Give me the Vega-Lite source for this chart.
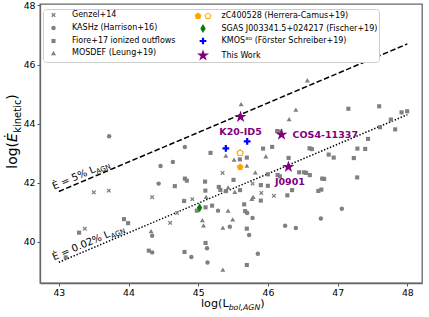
{
  "$schema": "https://vega.github.io/schema/vega-lite/v6.json",
  "width": 382,
  "height": 279,
  "autosize": {"type": "none"},
  "padding": {"left": 40, "top": 4, "right": 7, "bottom": 34},
  "background": "white",
  "config": {
    "view": {"stroke": "#666666", "strokeWidth": 1.3},
    "axis": {"domainColor": "#666666", "domainWidth": 1.3, "tickColor": "#555555", "tickSize": 3, "tickWidth": 1, "labelFont": "DejaVu Sans", "labelFontSize": 9.3, "labelColor": "#000000", "grid": false, "labelPadding": 2, "labelFlush": false, "title": null}
  },
  "datasets": {
    "pts": [
      {"g":"Genzel+14","x":43.502,"y":41.671},{"g":"Genzel+14","x":43.717,"y":41.729},{"g":"Genzel+14","x":43.373,"y":40.441},{"g":"Genzel+14","x":44.339,"y":41.508},{"g":"Genzel+14","x":44.915,"y":41.441},{"g":"Genzel+14","x":44.696,"y":40.973},{"g":"Genzel+14","x":44.597,"y":40.637},{"g":"Genzel+14","x":45.349,"y":42.329},{"g":"Genzel+14","x":45.779,"y":41.966},{"g":"Genzel+14","x":45.905,"y":41.651},{"g":"Genzel+14","x":46.085,"y":41.553},
      {"g":"KASHz (Harrison+16)","x":43.722,"y":43.569},{"g":"KASHz (Harrison+16)","x":44.808,"y":43.203},{"g":"KASHz (Harrison+16)","x":44.459,"y":42.566},{"g":"KASHz (Harrison+16)","x":44.636,"y":42.695},{"g":"KASHz (Harrison+16)","x":44.432,"y":41.966},{"g":"KASHz (Harrison+16)","x":44.339,"y":40.203},{"g":"KASHz (Harrison+16)","x":44.339,"y":39.637},{"g":"KASHz (Harrison+16)","x":44.901,"y":39.481},{"g":"KASHz (Harrison+16)","x":45.133,"y":39.298},{"g":"KASHz (Harrison+16)","x":45.284,"y":41.051},{"g":"KASHz (Harrison+16)","x":45.453,"y":40.502},{"g":"KASHz (Harrison+16)","x":45.730,"y":40.227},{"g":"KASHz (Harrison+16)","x":45.779,"y":40.803},{"g":"KASHz (Harrison+16)","x":45.126,"y":39.780},{"g":"KASHz (Harrison+16)","x":45.855,"y":39.593},{"g":"KASHz (Harrison+16)","x":46.247,"y":40.542},{"g":"KASHz (Harrison+16)","x":46.400,"y":40.464},{"g":"KASHz (Harrison+16)","x":46.759,"y":40.786},{"g":"KASHz (Harrison+16)","x":47.060,"y":41.112},{"g":"KASHz (Harrison+16)","x":45.702,"y":40.973},
      {"g":"Fiore+17 ionized outflows","x":43.291,"y":40.305},{"g":"Fiore+17 ionized outflows","x":43.100,"y":39.468},{"g":"Fiore+17 ionized outflows","x":43.935,"y":40.763},{"g":"Fiore+17 ionized outflows","x":43.994,"y":40.627},{"g":"Fiore+17 ionized outflows","x":44.664,"y":41.881},{"g":"Fiore+17 ionized outflows","x":44.808,"y":42.136},{"g":"Fiore+17 ionized outflows","x":44.836,"y":42.068},{"g":"Fiore+17 ionized outflows","x":44.798,"y":41.380},{"g":"Fiore+17 ionized outflows","x":44.291,"y":39.695},{"g":"Fiore+17 ionized outflows","x":44.803,"y":39.651},{"g":"Fiore+17 ionized outflows","x":45.176,"y":43.007},{"g":"Fiore+17 ionized outflows","x":45.098,"y":42.034},{"g":"Fiore+17 ionized outflows","x":45.102,"y":41.729},{"g":"Fiore+17 ionized outflows","x":45.295,"y":41.854},{"g":"Fiore+17 ionized outflows","x":45.317,"y":41.753},{"g":"Fiore+17 ionized outflows","x":45.396,"y":41.712},{"g":"Fiore+17 ionized outflows","x":45.600,"y":41.746},{"g":"Fiore+17 ionized outflows","x":45.506,"y":42.092},{"g":"Fiore+17 ionized outflows","x":45.597,"y":42.786},{"g":"Fiore+17 ionized outflows","x":45.697,"y":42.847},{"g":"Fiore+17 ionized outflows","x":45.930,"y":43.153},{"g":"Fiore+17 ionized outflows","x":46.060,"y":43.210},{"g":"Fiore+17 ionized outflows","x":45.105,"y":41.163},{"g":"Fiore+17 ionized outflows","x":45.199,"y":41.220},{"g":"Fiore+17 ionized outflows","x":44.980,"y":41.051},{"g":"Fiore+17 ionized outflows","x":45.659,"y":41.264},{"g":"Fiore+17 ionized outflows","x":45.673,"y":41.034},{"g":"Fiore+17 ionized outflows","x":45.697,"y":40.441},{"g":"Fiore+17 ionized outflows","x":45.105,"y":39.956},{"g":"Fiore+17 ionized outflows","x":45.697,"y":39.210},{"g":"Fiore+17 ionized outflows","x":45.898,"y":41.915},{"g":"Fiore+17 ionized outflows","x":45.898,"y":41.390},{"g":"Fiore+17 ionized outflows","x":45.999,"y":42.281},{"g":"Fiore+17 ionized outflows","x":45.999,"y":41.892},{"g":"Fiore+17 ionized outflows","x":46.138,"y":42.261},{"g":"Fiore+17 ionized outflows","x":46.171,"y":42.214},{"g":"Fiore+17 ionized outflows","x":46.132,"y":43.746},{"g":"Fiore+17 ionized outflows","x":46.178,"y":43.729},{"g":"Fiore+17 ionized outflows","x":46.296,"y":42.837},{"g":"Fiore+17 ionized outflows","x":46.278,"y":41.569},{"g":"Fiore+17 ionized outflows","x":46.346,"y":41.746},{"g":"Fiore+17 ionized outflows","x":46.448,"y":42.349},{"g":"Fiore+17 ionized outflows","x":46.519,"y":42.349},{"g":"Fiore+17 ionized outflows","x":46.548,"y":42.329},{"g":"Fiore+17 ionized outflows","x":46.601,"y":42.254},{"g":"Fiore+17 ionized outflows","x":46.597,"y":43.163},{"g":"Fiore+17 ionized outflows","x":46.630,"y":43.136},{"g":"Fiore+17 ionized outflows","x":46.723,"y":41.719},{"g":"Fiore+17 ionized outflows","x":46.766,"y":41.763},{"g":"Fiore+17 ionized outflows","x":46.778,"y":42.136},{"g":"Fiore+17 ionized outflows","x":46.806,"y":42.125},{"g":"Fiore+17 ionized outflows","x":46.871,"y":42.949},{"g":"Fiore+17 ionized outflows","x":46.943,"y":42.847},{"g":"Fiore+17 ionized outflows","x":47.154,"y":44.502},{"g":"Fiore+17 ionized outflows","x":47.280,"y":42.176},{"g":"Fiore+17 ionized outflows","x":47.232,"y":42.831},{"g":"Fiore+17 ionized outflows","x":47.283,"y":43.153},{"g":"Fiore+17 ionized outflows","x":47.395,"y":43.142},{"g":"Fiore+17 ionized outflows","x":47.436,"y":43.481},{"g":"Fiore+17 ionized outflows","x":47.595,"y":44.586},{"g":"Fiore+17 ionized outflows","x":47.608,"y":43.875},{"g":"Fiore+17 ionized outflows","x":47.763,"y":44.136},{"g":"Fiore+17 ionized outflows","x":47.825,"y":43.803},{"g":"Fiore+17 ionized outflows","x":47.917,"y":44.380},{"g":"Fiore+17 ionized outflows","x":47.997,"y":44.417},
      {"g":"MOSDEF (Leung+19)","x":44.323,"y":40.356},{"g":"MOSDEF (Leung+19)","x":45.396,"y":42.915},{"g":"MOSDEF (Leung+19)","x":45.514,"y":42.780},{"g":"MOSDEF (Leung+19)","x":45.615,"y":44.661},{"g":"MOSDEF (Leung+19)","x":45.697,"y":42.576},{"g":"MOSDEF (Leung+19)","x":45.819,"y":42.349},{"g":"MOSDEF (Leung+19)","x":45.970,"y":42.892},{"g":"MOSDEF (Leung+19)","x":45.429,"y":41.841},{"g":"MOSDEF (Leung+19)","x":45.525,"y":41.685},{"g":"MOSDEF (Leung+19)","x":45.113,"y":41.515},{"g":"MOSDEF (Leung+19)","x":45.428,"y":41.051},{"g":"MOSDEF (Leung+19)","x":45.059,"y":40.729},{"g":"MOSDEF (Leung+19)","x":45.076,"y":40.553},{"g":"MOSDEF (Leung+19)","x":45.353,"y":40.475},{"g":"MOSDEF (Leung+19)","x":45.494,"y":40.753},{"g":"MOSDEF (Leung+19)","x":45.353,"y":39.051},{"g":"MOSDEF (Leung+19)","x":45.788,"y":41.515},{"g":"MOSDEF (Leung+19)","x":45.769,"y":41.447},{"g":"MOSDEF (Leung+19)","x":46.304,"y":44.149},{"g":"MOSDEF (Leung+19)","x":46.400,"y":44.475},{"g":"MOSDEF (Leung+19)","x":46.565,"y":45.468},
      {"g":"SGAS J003341.5+024217 (Fischer+19)","x":45.019,"y":41.153},
      {"g":"KMOS³ᴰ (Förster Schreiber+19)","x":45.396,"y":43.163},{"g":"KMOS³ᴰ (Förster Schreiber+19)","x":45.702,"y":43.400},
      {"g":"This Work","x":45.607,"y":44.227,"name":"K20-ID5"},{"g":"This Work","x":46.195,"y":43.627,"name":"COS4-11337"},{"g":"This Work","x":46.293,"y":42.532,"name":"J0901"}
    ],
    "zc": [
      {"x":45.601,"y":42.525,"f":"filled"},{"x":45.601,"y":43.007,"f":"open"}
    ]
  },
  "layer": [
    {
      "data": {"values": [{"x":43,"y":41.699},{"x":48,"y":46.699}]},
      "mark": {"type": "line", "color": "black", "strokeWidth": 1.5, "strokeDash": [5.5, 2.5]},
      "encoding": {
        "x": {"field": "x", "type": "quantitative", "scale": {"domain": [42.73, 48.21], "nice": false, "zero": false}, "axis": {"values": [43,44,45,46,47,48], "format": "d"}},
        "y": {"field": "y", "type": "quantitative", "scale": {"domain": [38.6, 48.05], "nice": false, "zero": false}, "axis": {"values": [40,42,44,46,48], "format": "d"}}
      }
    },
    {
      "data": {"values": [{"x":43,"y":39.301},{"x":48,"y":44.301}]},
      "mark": {"type": "line", "color": "black", "strokeWidth": 1.5, "strokeDash": [1.4, 1.8]},
      "encoding": {"x": {"field": "x", "type": "quantitative"}, "y": {"field": "y", "type": "quantitative"}}
    },
    {
      "data": {"name": "pts"},
      "mark": {"type": "point", "filled": true, "opacity": 1, "strokeWidth": 0},
      "encoding": {
        "x": {"field": "x", "type": "quantitative"},
        "y": {"field": "y", "type": "quantitative"},
        "color": {"field": "g", "type": "nominal", "scale": {"domain": ["Genzel+14","KASHz (Harrison+16)","Fiore+17 ionized outflows","MOSDEF (Leung+19)","zC400528 (Herrera-Camus+19)","SGAS J003341.5+024217 (Fischer+19)","KMOS³ᴰ (Förster Schreiber+19)","This Work"], "range": ["#808080","#808080","#808080","#808080","#ffa500","#008000","#0000ff","#800080"]},
          "legend": {"orient": "none", "legendX": 3, "legendY": 5, "columns": 2, "title": null, "labelFont": "DejaVu Sans", "labelFontSize": 8, "labelColor": "#000000", "strokeColor": "#cccccc", "fillColor": "white", "padding": 1, "cornerRadius": 3, "rowPadding": 4, "columnPadding": 17.5, "labelOffset": 12, "symbolOffset": 3, "labelLimit": 400, "symbolOpacity": 1, "symbolStrokeWidth": 0}},
        "shape": {"field": "g", "type": "nominal", "scale": {"domain": ["Genzel+14","KASHz (Harrison+16)","Fiore+17 ionized outflows","MOSDEF (Leung+19)","zC400528 (Herrera-Camus+19)","SGAS J003341.5+024217 (Fischer+19)","KMOS³ᴰ (Förster Schreiber+19)","This Work"], "range": ["M-1,-0.6L-0.6,-1L0,-0.4L0.6,-1L1,-0.6L0.4,0L1,0.6L0.6,1L0,0.4L-0.6,1L-1,0.6L-0.4,0Z","circle","square","triangle-up","M-0.83,-0.6L-0.259,-0.185L-0.477,0.485L-1.183,0.485L-1.401,-0.185ZM0.83,-0.6L1.401,-0.185L1.183,0.485L0.477,0.485L0.259,-0.185ZM0.83,-0.4L0.45,-0.124L0.595,0.324L1.065,0.324L1.21,-0.124Z","M0,-1L0.6,0L0,1L-0.6,0Z","M-0.333,-1L0.333,-1L0.333,-0.333L1,-0.333L1,0.333L0.333,0.333L0.333,1L-0.333,1L-0.333,0.333L-1,0.333L-1,-0.333L-0.333,-0.333Z","M0,-1L0.2245,-0.309L0.951,-0.309L0.363,0.118L0.588,0.809L0,0.382L-0.588,0.809L-0.363,0.118L-0.951,-0.309L-0.2245,-0.309Z"]}},
        "size": {"field": "g", "type": "nominal", "scale": {"type": "ordinal", "domain": ["Genzel+14","KASHz (Harrison+16)","Fiore+17 ionized outflows","MOSDEF (Leung+19)","zC400528 (Herrera-Camus+19)","SGAS J003341.5+024217 (Fischer+19)","KMOS³ᴰ (Förster Schreiber+19)","This Work"], "range": [20, 20, 17, 25, 144, 81, 45, 160]}}
      }
    },
    {
      "data": {"name": "zc"},
      "transform": [{"filter": "datum.f === 'filled'"}],
      "mark": {"type": "point", "filled": true, "opacity": 1, "color": "#ffa500", "strokeWidth": 0, "size": 50, "shape": "M0,-1L0.951,-0.309L0.588,0.809L-0.588,0.809L-0.951,-0.309Z"},
      "encoding": {"x": {"field": "x", "type": "quantitative"}, "y": {"field": "y", "type": "quantitative"}}
    },
    {
      "data": {"name": "zc"},
      "transform": [{"filter": "datum.f === 'open'"}],
      "mark": {"type": "point", "filled": false, "opacity": 1, "color": "#ffa500", "strokeWidth": 1.2, "size": 42, "shape": "M0,-1L0.951,-0.309L0.588,0.809L-0.588,0.809L-0.951,-0.309Z"},
      "encoding": {"x": {"field": "x", "type": "quantitative"}, "y": {"field": "y", "type": "quantitative"}}
    },
    {
      "data": {"name": "pts"},
      "transform": [{"filter": "datum.name === 'K20-ID5'"}],
      "mark": {"type": "text", "font": "DejaVu Sans", "fontSize": 9.5, "fontWeight": "bold", "color": "#800080", "align": "center", "baseline": "middle", "dy": 15},
      "encoding": {"x": {"field": "x", "type": "quantitative"}, "y": {"field": "y", "type": "quantitative"}, "text": {"field": "name"}}
    },
    {
      "data": {"name": "pts"},
      "transform": [{"filter": "datum.name === 'COS4-11337'"}],
      "mark": {"type": "text", "font": "DejaVu Sans", "fontSize": 9.5, "fontWeight": "bold", "color": "#800080", "align": "left", "baseline": "middle", "dx": 11},
      "encoding": {"x": {"field": "x", "type": "quantitative"}, "y": {"field": "y", "type": "quantitative"}, "text": {"field": "name"}}
    },
    {
      "data": {"name": "pts"},
      "transform": [{"filter": "datum.name === 'J0901'"}],
      "mark": {"type": "text", "font": "DejaVu Sans", "fontSize": 9.5, "fontWeight": "bold", "color": "#800080", "align": "center", "baseline": "middle", "dx": 1.5, "dy": 15.5},
      "encoding": {"x": {"field": "x", "type": "quantitative"}, "y": {"field": "y", "type": "quantitative"}, "text": {"field": "name"}}
    },
    {
      "data": {"values": [{"t": "Ė = 5% L"}]},
      "mark": {"type": "text", "font": "DejaVu Sans", "fontSize": 10, "color": "black", "align": "left", "baseline": "alphabetic", "angle": -23, "dy": -3.5},
      "encoding": {"x": {"datum": 42.95, "type": "quantitative"}, "y": {"datum": 41.649, "type": "quantitative"}, "text": {"field": "t"}}
    },
    {
      "data": {"values": [{"t": "AGN"}]},
      "mark": {"type": "text", "font": "DejaVu Sans", "fontSize": 7, "color": "black", "align": "left", "baseline": "alphabetic", "angle": -23, "dx": 46, "dy": -1},
      "encoding": {"x": {"datum": 42.95, "type": "quantitative"}, "y": {"datum": 41.649, "type": "quantitative"}, "text": {"field": "t"}}
    },
    {
      "data": {"values": [{"t": "Ė = 0.02% L"}]},
      "mark": {"type": "text", "font": "DejaVu Sans", "fontSize": 10, "color": "black", "align": "left", "baseline": "alphabetic", "angle": -23, "dy": -3.5},
      "encoding": {"x": {"datum": 42.95, "type": "quantitative"}, "y": {"datum": 39.251, "type": "quantitative"}, "text": {"field": "t"}}
    },
    {
      "data": {"values": [{"t": "AGN"}]},
      "mark": {"type": "text", "font": "DejaVu Sans", "fontSize": 7, "color": "black", "align": "left", "baseline": "alphabetic", "angle": -23, "dx": 62, "dy": -1},
      "encoding": {"x": {"datum": 42.95, "type": "quantitative"}, "y": {"datum": 39.251, "type": "quantitative"}, "text": {"field": "t"}}
    },
    {
      "data": {"values": [{"t": "log(L"}]},
      "mark": {"type": "text", "font": "DejaVu Sans", "fontSize": 11.2, "color": "black", "align": "left", "baseline": "alphabetic", "dx": -31.85},
      "encoding": {"x": {"datum": 45.496, "type": "quantitative"}, "y": {"datum": 37.8, "type": "quantitative"}, "text": {"field": "t"}}
    },
    {
      "data": {"values": [{"t": "bol,AGN"}]},
      "mark": {"type": "text", "font": "DejaVu Sans", "fontSize": 7.8, "fontStyle": "italic", "color": "black", "align": "left", "baseline": "alphabetic", "dx": -4.15, "dy": 3},
      "encoding": {"x": {"datum": 45.496, "type": "quantitative"}, "y": {"datum": 37.8, "type": "quantitative"}, "text": {"field": "t"}}
    },
    {
      "data": {"values": [{"t": ")"}]},
      "mark": {"type": "text", "font": "DejaVu Sans", "fontSize": 11.2, "color": "black", "align": "left", "baseline": "alphabetic", "dx": 27.45},
      "encoding": {"x": {"datum": 45.496, "type": "quantitative"}, "y": {"datum": 37.8, "type": "quantitative"}, "text": {"field": "t"}}
    },
    {
      "data": {"values": [{"t": "log("}]},
      "mark": {"type": "text", "font": "DejaVu Sans", "fontSize": 14, "color": "black", "align": "left", "baseline": "alphabetic", "angle": -90, "dx": -37.2},
      "encoding": {"x": {"datum": 42.397, "type": "quantitative"}, "y": {"datum": 43.73, "type": "quantitative"}, "text": {"field": "t"}}
    },
    {
      "data": {"values": [{"t": "Ė"}]},
      "mark": {"type": "text", "font": "DejaVu Sans", "fontSize": 14, "fontStyle": "italic", "color": "black", "align": "left", "baseline": "alphabetic", "angle": -90, "dx": -10.4},
      "encoding": {"x": {"datum": 42.397, "type": "quantitative"}, "y": {"datum": 43.73, "type": "quantitative"}, "text": {"field": "t"}}
    },
    {
      "data": {"values": [{"t": "kinetic"}]},
      "mark": {"type": "text", "font": "DejaVu Sans", "fontSize": 10, "color": "black", "align": "left", "baseline": "alphabetic", "angle": -90, "dx": -1.3, "dy": 3.8},
      "encoding": {"x": {"datum": 42.397, "type": "quantitative"}, "y": {"datum": 43.73, "type": "quantitative"}, "text": {"field": "t"}}
    },
    {
      "data": {"values": [{"t": ")"}]},
      "mark": {"type": "text", "font": "DejaVu Sans", "fontSize": 14, "color": "black", "align": "left", "baseline": "alphabetic", "angle": -90, "dx": 31.9},
      "encoding": {"x": {"datum": 42.397, "type": "quantitative"}, "y": {"datum": 43.73, "type": "quantitative"}, "text": {"field": "t"}}
    }
  ]
}
